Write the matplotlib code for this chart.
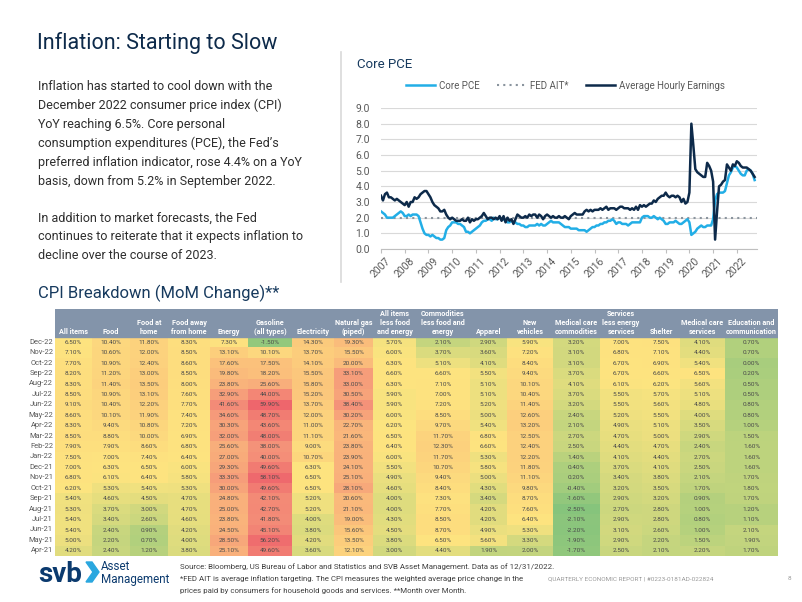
import matplotlib
matplotlib.use("Agg")
import matplotlib.pyplot as plt
import numpy as np
from matplotlib import font_manager
from matplotlib.colors import LinearSegmentedColormap, TwoSlopeNorm
from matplotlib.patches import Polygon
from matplotlib.lines import Line2D

# ---- Core PCE chart data (monthly YoY %, Mar 2007 - Dec 2022) ----
year_labels = [str(y) for y in range(2007, 2023)]
core_pce = [
    2.4, 2.3, 2.2, 2.0, 2.0, 2.0, 2.0, 2.1, 2.2, 2.3, 2.4, 2.3,
    2.1, 2.1, 2.2, 2.1, 2.2, 2.2, 2.2, 2.1, 1.7, 1.3, 1.0, 0.9,
    0.9, 0.8, 0.9, 0.8, 0.7, 0.7, 0.6, 0.6, 0.7, 1.2, 1.4, 1.5,
    1.7, 1.7, 1.7, 1.6, 1.6, 1.5, 1.4, 1.1, 1.1, 1.0, 1.1, 1.2,
    1.3, 1.4, 1.5, 1.7, 1.8, 1.8, 1.9, 1.9, 1.8, 2.0, 1.9, 1.9,
    2.0, 1.9, 1.9, 1.8, 1.7, 1.7, 1.8, 1.7, 1.7, 1.6, 1.6, 1.5,
    1.5, 1.4, 1.4, 1.5, 1.5, 1.5, 1.5, 1.6, 1.5, 1.6, 1.5, 1.5,
    1.6, 1.7, 1.8, 1.7, 1.7, 1.7, 1.7, 1.6, 1.5, 1.4, 1.4, 1.4,
    1.3, 1.3, 1.3, 1.3, 1.2, 1.2, 1.2, 1.2, 1.1, 1.2, 1.3, 1.4,
    1.4, 1.5, 1.5, 1.6, 1.6, 1.7, 1.7, 1.8, 1.8, 1.9, 1.8, 1.6,
    1.7, 1.7, 1.6, 1.6, 1.6, 1.5, 1.6, 1.7, 1.7, 1.7, 1.7, 1.7,
    2.0, 2.1, 2.1, 2.1, 2.0, 2.0, 2.1, 2.0, 1.9, 2.0, 1.9, 1.8,
    1.6, 1.6, 1.7, 1.7, 1.7, 1.8, 1.7, 1.6, 1.6, 1.7, 1.8, 1.9,
    1.7, 0.9, 1.0, 1.1, 1.3, 1.4, 1.5, 1.4, 1.4, 1.5, 1.5, 1.5,
    1.9, 3.1, 3.5, 3.6, 3.6, 3.6, 3.7, 4.2, 4.7, 4.9, 5.2, 5.3,
    5.2, 5.0, 4.8, 4.7, 4.7, 5.0, 5.1, 5.0, 4.8, 4.4,
]
hourly_earnings = [
    3.4, 3.1, 3.5, 3.6, 3.3, 3.3, 3.2, 3.1, 3.2, 3.1, 3.0, 2.9,
    2.8, 3.0, 2.7, 3.0, 3.0, 3.3, 3.2, 3.3, 3.5, 3.6, 3.7, 3.7,
    3.5, 3.3, 3.0, 2.8, 2.7, 2.6, 2.4, 2.4, 2.5, 2.2, 2.0, 1.9,
    2.0, 1.9, 1.8, 1.8, 1.8, 1.9, 1.8, 1.8, 2.0, 1.7, 1.9, 1.8,
    1.9, 1.9, 2.0, 2.1, 2.3, 2.1, 1.9, 2.0, 2.0, 1.9, 2.0, 1.9,
    2.1, 1.8, 2.1, 1.7, 2.0, 1.8, 1.9, 1.6, 1.9, 2.2, 2.1, 2.0,
    2.0, 2.1, 2.0, 2.2, 2.1, 2.2, 2.2, 2.0, 2.2, 2.1, 1.9, 2.1,
    2.2, 2.1, 2.0, 2.1, 2.0, 2.0, 2.1, 2.0, 2.0, 2.1, 2.0, 1.9,
    2.1, 2.2, 2.3, 2.2, 2.2, 2.2, 2.2, 2.4, 2.5, 2.4, 2.5, 2.4,
    2.5, 2.5, 2.5, 2.6, 2.5, 2.6, 2.7, 2.5, 2.6, 2.6, 2.6, 2.5,
    2.6, 2.7, 2.7, 2.6, 2.6, 2.6, 2.5, 2.6, 2.5, 2.7, 2.5, 2.8,
    2.7, 2.8, 2.7, 2.8, 2.9, 2.9, 3.1, 3.0, 3.2, 3.3, 3.4, 3.4,
    3.6, 3.4, 3.3, 3.4, 3.4, 3.3, 3.4, 3.3, 3.0, 3.2, 2.9, 3.0,
    3.6, 8.0, 6.6, 5.1, 4.9, 4.8, 4.7, 4.6, 4.6, 5.5, 5.3, 5.0,
    4.3, 0.6, 2.4, 4.0, 4.1, 4.3, 4.4, 5.4, 5.2, 5.0, 5.4, 5.3,
    5.6, 5.5, 5.3, 5.2, 5.2, 5.2, 5.1, 5.0, 4.8, 4.6,
]
fed_target = 2.0

# ---- CPI breakdown table (YoY %, Dec-22 down to Apr-21) ----
months = ["Dec-22", "Nov-22", "Oct-22", "Sep-22", "Aug-22", "Jul-22", "Jun-22",
          "May-22", "Apr-22", "Mar-22", "Feb-22", "Jan-22", "Dec-21", "Nov-21",
          "Oct-21", "Sep-21", "Aug-21", "Jul-21", "Jun-21", "May-21", "Apr-21"]
headers = ["All items", "Food", "Food at\nhome", "Food away\nfrom home", "Energy",
           "Gasoline\n(all types)", "Electricity", "Natural gas\n(piped)",
           "All items\nless food\nand energy", "Commodities\nless food and\nenergy",
           "Apparel", "New\nvehicles", "Medical care\ncommodities",
           "Services\nless energy\nservices", "Shelter", "Medical care\nservices",
           "Education and\ncommunication"]
all_items = [6.5, 7.1, 7.7, 8.2, 8.3, 8.5, 9.1, 8.6, 8.3, 8.5, 7.9, 7.5, 7.0, 6.8, 6.2, 5.4, 5.3, 5.4, 5.4, 5.0, 4.2]
food = [10.4, 10.6, 10.9, 11.2, 11.4, 10.9, 10.4, 10.1, 9.4, 8.8, 7.9, 7.0, 6.3, 6.1, 5.3, 4.6, 3.7, 3.4, 2.4, 2.2, 2.4]
food_home = [11.8, 12.0, 12.4, 13.0, 13.5, 13.1, 12.2, 11.9, 10.8, 10.0, 8.6, 7.4, 6.5, 6.4, 5.4, 4.5, 3.0, 2.6, 0.9, 0.7, 1.2]
food_away = [8.3, 8.5, 8.6, 8.5, 8.0, 7.6, 7.7, 7.4, 7.2, 6.9, 6.8, 6.4, 6.0, 5.8, 5.3, 4.7, 4.7, 4.6, 4.2, 4.0, 3.8]
energy = [7.3, 13.1, 17.6, 19.8, 23.8, 32.9, 41.6, 34.6, 30.3, 32.0, 25.6, 27.0, 29.3, 33.3, 30.0, 24.8, 25.0, 23.8, 24.5, 28.5, 25.1]
gasoline = [-1.5, 10.1, 17.5, 18.2, 25.6, 44.0, 59.9, 48.7, 43.6, 48.0, 38.0, 40.0, 49.6, 58.1, 49.6, 42.1, 42.7, 41.8, 45.1, 56.2, 49.6]
electricity = [14.3, 13.7, 14.1, 15.5, 15.8, 15.2, 13.7, 12.0, 11.0, 11.1, 9.0, 10.7, 6.3, 6.5, 6.5, 5.2, 5.2, 4.0, 3.8, 4.2, 3.6]
natural_gas = [19.3, 15.5, 20.0, 33.1, 33.0, 30.5, 38.4, 30.2, 22.7, 21.6, 23.8, 23.9, 24.1, 25.1, 28.1, 20.6, 21.1, 19.0, 15.6, 13.5, 12.1]
core_items = [5.7, 6.0, 6.3, 6.6, 6.3, 5.9, 5.9, 6.0, 6.2, 6.5, 6.4, 6.0, 5.5, 4.9, 4.6, 4.0, 4.0, 4.3, 4.5, 3.8, 3.0]
commodities = [2.1, 3.7, 5.1, 6.6, 7.1, 7.0, 7.2, 8.5, 9.7, 11.7, 12.3, 11.7, 10.7, 9.4, 8.4, 7.3, 7.7, 8.5, 8.7, 6.5, 4.4]
apparel = [2.9, 3.6, 4.1, 5.5, 5.1, 5.1, 5.2, 5.0, 5.4, 6.8, 6.6, 5.3, 5.8, 5.0, 4.3, 3.4, 4.2, 4.2, 4.9, 5.6, 1.9]
new_vehicles = [5.9, 7.2, 8.4, 9.4, 10.1, 10.4, 11.4, 12.6, 13.2, 12.5, 12.4, 12.2, 11.8, 11.1, 9.8, 8.7, 7.6, 6.4, 5.3, 3.3, 2.0]
med_commodities = [3.2, 3.1, 3.1, 3.7, 4.1, 3.7, 3.2, 2.4, 2.1, 2.7, 2.5, 1.4, 0.4, 0.2, -0.4, -1.6, -2.5, -2.1, -2.2, -1.9, -1.7]
services = [7.0, 6.8, 6.7, 6.7, 6.1, 5.5, 5.5, 5.2, 4.9, 4.7, 4.4, 4.1, 3.7, 3.4, 3.2, 2.9, 2.7, 2.9, 3.1, 2.9, 2.5]
shelter = [7.5, 7.1, 6.9, 6.6, 6.2, 5.7, 5.6, 5.5, 5.1, 5.0, 4.7, 4.4, 4.1, 3.8, 3.5, 3.2, 2.8, 2.8, 2.6, 2.2, 2.1]
med_services = [4.1, 4.4, 5.4, 6.5, 5.6, 5.1, 4.8, 4.0, 3.5, 2.9, 2.4, 2.7, 2.5, 2.1, 1.7, 0.9, 1.0, 0.8, 1.0, 1.5, 2.2]
education = [0.7, 0.7, 0.0, 0.2, 0.5, 0.5, 0.8, 0.8, 1.0, 1.5, 1.6, 1.6, 1.6, 1.7, 1.8, 1.7, 1.2, 1.1, 2.1, 1.9, 1.7]

# ---- styling ----
NAVY = "#0d2a4a"
TITLE_BLUE = "#173a5e"
LIGHT_BLUE = "#22aee6"
GREY_TXT = "#595959"


def has_font(name):
    try:
        font_manager.findfont(font_manager.FontProperties(family=name),
                              fallback_to_default=False)
        return True
    except Exception:
        return False


NARROW = "Liberation Sans Narrow" if has_font("Liberation Sans Narrow") else "Roboto"
NSCALE = 1.0 if NARROW == "Liberation Sans Narrow" else 0.84
SANS = "Roboto"

W, H = 802, 602


def fx(x):
    return x / W


def fy(y):
    return 1 - y / H


fig = plt.figure(figsize=(W / 100, H / 100), dpi=100)
fig.patch.set_facecolor("white")

# ---- left text ----
fig.text(fx(37), fy(49), "Inflation: Starting to Slow", fontsize=15.5, color=NAVY,
         family=SANS, va="baseline")
para1 = ["Inflation has started to cool down with the",
         "December 2022 consumer price index (CPI)",
         "YoY reaching 6.5%. Core personal",
         "consumption expenditures (PCE), the Fed\u2019s",
         "preferred inflation indicator, rose 4.4% on a YoY",
         "basis, down from 5.2% in September 2022."]
para2 = ["In addition to market forecasts, the Fed",
         "continues to reiterate that it expects inflation to",
         "decline over the course of 2023."]
for i, line in enumerate(para1):
    fig.text(fx(38), fy(90 + 18.9 * i), line, fontsize=10.7 * NSCALE, color="#2e2e2e",
             family=NARROW, va="baseline")
for i, line in enumerate(para2):
    fig.text(fx(38), fy(221.5 + 18.9 * i), line, fontsize=10.7 * NSCALE, color="#2e2e2e",
             family=NARROW, va="baseline")

# separator
fig.add_artist(Line2D([fx(341), fx(341)], [fy(52), fy(282)], color="#d9d9d9", lw=1.2))

# ---- Core PCE chart ----
fig.text(fx(357), fy(68), "Core PCE", fontsize=9.5, color=TITLE_BLUE, family=SANS,
         va="baseline")
ax = fig.add_axes([fx(381), fy(249), (757 - 381) / W, (249 - 108) / H])
x = np.arange(len(core_pce))
ax.plot(x, core_pce, color=LIGHT_BLUE, lw=1.8, label="Core PCE", zorder=3)
ax.axhline(fed_target, color="#8a949e", lw=1.5, ls=(0, (1, 2)), label="FED AIT*", zorder=2)
ax.plot(x, hourly_earnings, color=NAVY, lw=1.8, label="Average Hourly Earnings", zorder=4)
ax.set_xlim(0, 190.2)
ax.set_ylim(0, 9)
ax.set_yticks(np.arange(0, 10, 1))
ax.set_yticklabels([f"{v:.1f}" for v in range(10)])
ax.set_xticks(np.arange(0, len(year_labels) * 12, 12))
ax.set_xticklabels(year_labels, rotation=45, ha="center")
ax.tick_params(axis="y", length=0, labelsize=7.5, labelcolor=GREY_TXT, pad=8)
ax.tick_params(axis="x", length=3, color="#bfbfbf", labelsize=7.5, labelcolor=GREY_TXT, pad=2)
for lab in ax.get_xticklabels() + ax.get_yticklabels():
    lab.set_family(SANS)
ax.grid(axis="y", color="#d9d9d9", lw=0.8)
ax.set_axisbelow(True)
for side in ["top", "right", "left"]:
    ax.spines[side].set_visible(False)
ax.spines["bottom"].set_color("#bfbfbf")
leg = ax.legend(loc="center", bbox_to_anchor=(0.49, 1.158), ncol=3, frameon=False,
                handlelength=3.0, columnspacing=1.8, handletextpad=0.4,
                prop={"family": SANS, "size": 7})
for t in leg.get_texts():
    t.set_color(GREY_TXT)

# ---- CPI breakdown table ----
fig.text(fx(38), fy(298), "CPI Breakdown (MoM Change)**", fontsize=12, color=TITLE_BLUE,
         family=SANS, va="baseline")
values = np.array([all_items, food, food_home, food_away, energy, gasoline, electricity,
                   natural_gas, core_items, commodities, apparel, new_vehicles,
                   med_commodities, services, shelter, med_services, education]).T
col_edges = np.array([55, 92, 130, 168, 210, 248, 292, 334, 373, 416, 470, 507, 553,
                      600, 642, 680, 725, 778])
col_centers = (col_edges[:-1] + col_edges[1:]) / 2
row_h = (556 - 337) / len(months)
head_rows = (337 - 309) / row_h

tab = fig.add_axes([fx(55), fy(556), (778 - 55) / W, (556 - 309) / H])
cmap = LinearSegmentedColormap.from_list(
    "heat", [(0.0, "#86c47c"), (0.5, "#fde47f"), (0.6, "#fbc27b"),
             (0.78, "#f5967a"), (1.0, "#ee666c")])
norm = TwoSlopeNorm(vmin=values.min(), vcenter=np.median(values), vmax=values.max())
tab.pcolormesh(col_edges, np.arange(len(months) + 1), values, cmap=cmap, norm=norm)
tab.axhspan(-head_rows, 0, color="#8394aa")
tab.set_xlim(col_edges[0], col_edges[-1])
tab.set_ylim(len(months), -head_rows)
tab.axis("off")
for j, h in enumerate(headers):
    tab.text(col_centers[j], -0.12, h, ha="center", va="bottom", fontsize=5.2,
             fontweight="bold", color="white", family=SANS, linespacing=1.15)
for i, m in enumerate(months):
    tab.text(col_edges[0] - 2, i + 0.5, m, ha="right", va="center", fontsize=5.4,
             color=GREY_TXT, family=SANS, clip_on=False)
    for j in range(len(headers)):
        tab.text(col_centers[j], i + 0.52, f"{values[i, j]:.2f}%", ha="center",
                 va="center", fontsize=4.6, color="#4a4a4a", family=SANS)

# ---- footer ----
fig.text(fx(38), fy(582), "svb", fontsize=20, fontweight="bold", color="#0b3a6e",
         family=SANS, va="baseline")
fig.add_artist(Polygon([[fx(86), fy(562)], [fx(92), fy(562)], [fx(99), fy(572)],
                        [fx(92), fy(582)], [fx(86), fy(582)], [fx(93), fy(572)]],
                       closed=True, color="#2aa7df", transform=fig.transFigure))
fig.text(fx(101), fy(570), "Asset", fontsize=10 * NSCALE, color="#0b3a6e", family=NARROW,
         va="baseline")
fig.text(fx(101), fy(583), "Management", fontsize=10 * NSCALE, color="#0b3a6e",
         family=NARROW, va="baseline")
notes = ["Source: Bloomberg, US Bureau of Labor and Statistics and SVB Asset Management. Data as of 12/31/2022.",
         "*FED AIT is average inflation targeting. The CPI measures the weighted average price change in the",
         "prices paid by consumers for household goods and services. **Month over Month."]
for i, line in enumerate(notes):
    fig.text(fx(180), fy(569 + 12 * i), line, fontsize=6.7 * NSCALE, color="#404040",
             family=NARROW, va="baseline")
fig.text(fx(548), fy(580), "QUARTERLY ECONOMIC REPORT | #0223-0181AD-022824", fontsize=4.6,
         color="#9a9a9a", family=SANS, va="baseline")
fig.text(fx(788), fy(580), "8", fontsize=4.6, color="#9a9a9a", family=SANS, va="baseline")

fig.savefig("out.png", dpi=100)
